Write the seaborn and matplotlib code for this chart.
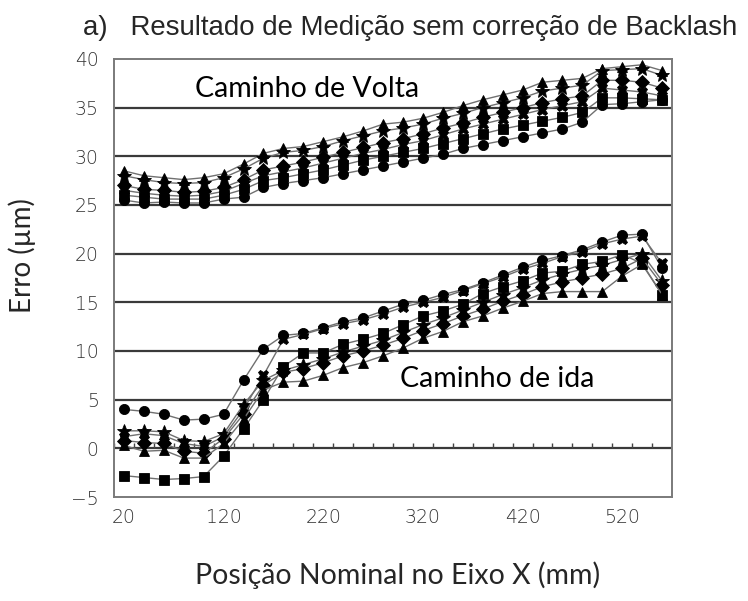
import matplotlib
matplotlib.use("Agg")
import matplotlib.pyplot as plt
import seaborn as sns
import pandas as pd

# ---------------- data ----------------
posicao = [20, 40, 60, 80, 100, 120, 140, 160, 180, 200, 220, 240, 260, 280,
           300, 320, 340, 360, 380, 400, 420, 440, 460, 480, 500, 520, 540, 560]

# Caminho de Volta (return path)
volta_triangulo = [28.5, 28.0, 27.8, 27.6, 27.8, 28.2, 29.2, 30.3, 30.8, 31.0, 31.5, 32.0, 32.6, 33.3,
                   33.5, 33.9, 34.5, 35.2, 35.8, 36.3, 36.8, 37.6, 37.8, 38.0, 39.0, 39.2, 39.4, 38.8]
volta_estrela = [28.0, 27.6, 27.3, 27.2, 27.3, 27.8, 28.7, 29.8, 30.4, 30.6, 31.0, 31.6, 32.1, 32.6,
                 32.9, 33.3, 33.9, 34.4, 35.0, 35.5, 36.0, 36.7, 37.0, 37.3, 38.8, 38.9, 39.0, 38.3]
volta_losango = [27.0, 26.6, 26.5, 26.3, 26.4, 26.8, 27.6, 28.6, 29.0, 29.4, 29.9, 30.4, 30.9, 31.4,
                 31.8, 32.3, 32.9, 33.4, 34.0, 34.5, 35.0, 35.5, 35.9, 36.2, 37.8, 37.8, 37.6, 37.0]
volta_xis = [26.5, 26.2, 26.0, 25.9, 26.0, 26.4, 27.2, 28.0, 28.4, 28.8, 29.3, 29.8, 30.3, 30.7,
             31.2, 31.6, 32.2, 32.8, 33.3, 33.8, 34.3, 34.8, 35.2, 35.6, 37.0, 36.8, 36.6, 36.2]
volta_quadrado = [26.0, 25.8, 25.6, 25.6, 25.6, 26.0, 26.6, 27.5, 27.8, 28.2, 28.6, 29.1, 29.6, 30.0,
                  30.4, 30.8, 31.3, 31.8, 32.3, 32.8, 33.2, 33.6, 34.0, 34.5, 36.0, 36.0, 35.9, 35.8]
volta_circulo = [25.5, 25.2, 25.3, 25.2, 25.2, 25.6, 25.8, 26.8, 27.2, 27.5, 27.8, 28.2, 28.6, 29.0,
                 29.4, 29.8, 30.2, 30.8, 31.2, 31.6, 32.0, 32.4, 32.8, 33.5, 35.3, 35.4, 35.6, 35.8]

# Caminho de ida (forward path)
ida_circulo = [4.0, 3.8, 3.5, 2.9, 3.0, 3.5, 7.0, 10.2, 11.6, 11.8, 12.4, 13.0, 13.4, 14.1,
               14.8, 15.2, 15.8, 16.3, 17.0, 17.8, 18.6, 19.3, 19.8, 20.4, 21.2, 21.9, 22.0, 18.5]
ida_xis = [1.2, 1.5, 1.3, 0.5, 0.2, 1.2, 4.0, 7.5, 11.2, 11.7, 12.3, 12.8, 13.2, 13.8,
           14.5, 15.0, 15.5, 16.2, 16.9, 17.6, 18.4, 19.0, 19.7, 20.2, 21.0, 21.5, 21.8, 19.0]
ida_estrela = [1.8, 1.8, 1.7, 0.8, 0.7, 1.5, 4.5, 7.0, 8.0, 8.6, 9.2, 9.9, 10.5, 11.1,
               11.9, 12.7, 13.4, 14.2, 15.0, 15.8, 16.5, 17.3, 17.9, 18.4, 18.8, 19.4, 20.0, 17.2]
ida_quadrado = [-2.8, -3.0, -3.2, -3.1, -2.9, -0.8, 2.0, 5.0, 8.4, 9.8, 9.8, 10.7, 11.2, 11.8,
                12.7, 13.6, 14.1, 14.8, 15.9, 16.6, 17.2, 18.0, 18.2, 18.9, 19.2, 19.9, 19.0, 15.8]
ida_losango = [0.8, 0.6, 0.5, -0.3, -0.5, 1.0, 3.5, 6.5, 7.8, 8.2, 8.8, 9.5, 10.0, 10.6,
               11.3, 12.1, 12.8, 13.6, 14.3, 15.1, 15.8, 16.6, 17.1, 17.5, 17.9, 18.5, 19.5, 16.8]
ida_triangulo = [0.3, -0.3, -0.2, -1.0, -1.0, 0.5, 3.0, 6.0, 6.8, 6.9, 7.5, 8.3, 8.8, 9.5,
                 10.3, 11.3, 12.0, 13.0, 13.6, 14.4, 15.1, 15.9, 16.1, 16.1, 16.1, 17.7, 18.9, 15.8]

y_ticks = [-5, 0, 5, 10, 15, 20, 25, 30, 35, 40]
x_ticks = [20, 120, 220, 320, 420, 520]
x_marcas = [10, 30, 50, 70, 90, 110, 130, 150, 170, 190, 210, 230, 250, 270, 290,
            310, 330, 350, 370, 390, 410, 430, 450, 470, 490, 510, 530, 550, 570]

series = [
    (volta_triangulo, "^"), (volta_estrela, "*"), (volta_losango, "D"),
    (volta_xis, "X"), (volta_quadrado, "s"), (volta_circulo, "o"),
    (ida_circulo, "o"), (ida_xis, "X"), (ida_estrela, "*"),
    (ida_quadrado, "s"), (ida_losango, "D"), (ida_triangulo, "^"),
]

# ---------------- figure ----------------
sns.set_style("white")
plt.rcParams["font.family"] = ["Liberation Sans", "DejaVu Sans"]

fig = plt.figure(figsize=(7.48, 6.01), dpi=100)
ax = fig.add_axes([0.1524, 0.173, 0.7460, 0.7290])

# horizontal gridlines
for yv in [0, 5, 10, 15, 20, 25, 30, 35]:
    ax.axhline(yv, color="#3a3a3a", lw=1.6, zorder=1)

# small category ticks along the zero line
ax.vlines(x_marcas, 0, 0.55, color="#444444", lw=1.0, zorder=1)

for vals, mk in series:
    df = pd.DataFrame({"x": posicao, "y": vals})
    ms = 10 if mk == "*" else 7.3
    sns.lineplot(data=df, x="x", y="y", ax=ax, color="#707070", lw=1.0,
                 marker=mk, markersize=ms, markerfacecolor="black",
                 markeredgecolor="black", markeredgewidth=0.6, zorder=3)

ax.set_xlim(10, 570)
ax.set_ylim(-5, 40)
ax.set_xticks(x_ticks)
ax.set_yticks(y_ticks)
ax.tick_params(axis="both", length=0, labelsize=13.5, colors="#333333")
ax.tick_params(axis="x", pad=8)
ax.tick_params(axis="y", pad=11)
for lab in ax.get_xticklabels() + ax.get_yticklabels():
    lab.set_family(["DejaVu Sans"])
    lab.set_fontweight("light")
for sp in ax.spines.values():
    sp.set_visible(True)
    sp.set_color("#7a7a7a")
    sp.set_linewidth(1.4)

ax.set_xlabel("")
ax.set_ylabel("")

ax.text(91, 36.9, "Caminho de Volta", fontsize=20.5, family=["Lato", "DejaVu Sans"],
        va="center", ha="left", color="black")
ax.text(297, 7.1, "Caminho de ida", fontsize=20.5, family=["Lato", "DejaVu Sans"],
        va="center", ha="left", color="black")

fig.text(0.111, 0.953, "a)   Resultado de Medição sem correção de Backlash",
         fontsize=19.9, family=["Liberation Sans", "DejaVu Sans"], va="center", ha="left")
fig.text(0.532, 0.043, "Posição Nominal no Eixo X (mm)", fontsize=20.5,
         family=["Lato", "DejaVu Sans"], va="center", ha="center")
fig.text(0.030, 0.575, "Erro (µm)", fontsize=20, rotation=90,
         family=["Lato", "DejaVu Sans"], va="center", ha="center")

fig.savefig("out.png", dpi=100)
